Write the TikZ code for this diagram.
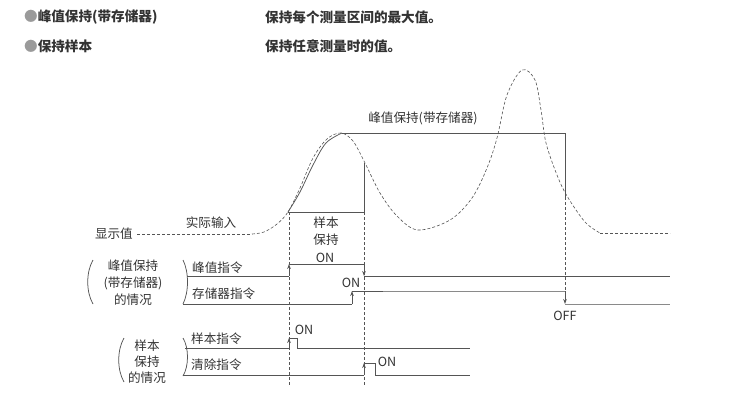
\documentclass[tikz,border=0pt]{standalone}
\usepackage{fontspec}
\setmainfont{Noto Sans CJK SC}
\usetikzlibrary{arrows.meta}
\definecolor{ln}{HTML}{555555}
\definecolor{lg}{HTML}{8A8A8A}
\definecolor{tx}{HTML}{333333}
\definecolor{bul}{HTML}{9A9A9A}
\tikzset{
  sig/.style={draw=ln, line width=0.75pt},
  sigl/.style={draw=lg, line width=0.85pt},
  dsh/.style={draw=ln, line width=0.6pt, dash pattern=on 3pt off 2pt},
  arr/.style={sig, -{Stealth[length=5pt,width=3.6pt]}},
  lbl/.style={text=tx, font=\fontsize{12.6}{14}\selectfont, inner sep=0pt},
  hdr/.style={text=tx, font=\fontsize{13.6}{15}\selectfont\bfseries, inner sep=0pt, anchor=west},
  onl/.style={text=tx, font=\fontsize{12.6}{14}\selectfont, inner sep=0pt}
}
\begin{document}
\begin{tikzpicture}[x=1pt,y=-1pt]
\useasboundingbox (0,0) rectangle (745,400);
% header
\node[hdr] (h1) at (24,17) {{\color{bul}●}峰值保持(带存储器)};
\node[hdr] (h2) at (24,46) {{\color{bul}●}保持样本};
\node[hdr] (h3) at (265,17) {保持每个测量区间的最大值。};
\node[hdr] (h4) at (265,46) {保持任意测量时的值。};
% labels
\node[lbl, anchor=east] (disp) at (133,234) {显示值};
\node[lbl] (act) at (211,223) {实际输入};
\node[lbl] (ph) at (423,118) {峰值保持(带存储器)};
\node[lbl] (sh1) at (326,223) {样本};
\node[lbl] (sh2) at (326,240) {保持};
\node[onl] (on1) at (325,258) {ON};
\node[onl] (on2) at (351,283) {ON};
\node[onl] (off) at (565,316) {OFF};
\node[onl] (on3) at (304,330) {ON};
\node[onl] (on4) at (387,362) {ON};
% left group labels
\node[lbl] (g1a) at (133,266) {峰值保持};
\node[lbl] (g1b) at (133,283) {(带存储器)};
\node[lbl] (g1c) at (133,300) {的情况};
\node[lbl, anchor=west] (c1) at (192,268) {峰值指令};
\node[lbl, anchor=west] (c2) at (192,294) {存储器指令};
\node[lbl] (g2a) at (147,346) {样本};
\node[lbl] (g2b) at (147,362) {保持};
\node[lbl] (g2c) at (147,378) {的情况};
\node[lbl, anchor=west] (c3) at (191,339) {样本指令};
\node[lbl, anchor=west] (c4) at (191,365) {清除指令};
% brackets
\draw[ln, line width=0.75pt] (93,260) .. controls (86,272) and (86,292) .. (93,304);
\draw[ln, line width=0.75pt] (183,260) .. controls (189,272) and (189,292) .. (183,304);
\draw[ln, line width=0.75pt] (124,338) .. controls (117,350) and (117,370) .. (124,382);
\draw[ln, line width=0.75pt] (183,338) .. controls (189,348) and (189,366) .. (183,376);
% actual input (dashed)
\draw[dsh] (137,234) -- (252,234);
\draw[dsh] plot[smooth, tension=0.55] coordinates {(252,234) (264,232) (277,224) (288,212) (300,188) (313,158) (327,139) (341,133) (353,141) (365,163) (380,193) (397,216) (418,230) (450,220) (472,198) (487,168) (497,138) (507,95) (522,70) (535,80) (541,110) (546,143) (557,175) (567,196) (585,222) (600,233)};
\draw[dsh] (600,233) -- (670,233);
% peak hold solid
\draw[sig] plot[smooth, tension=0.55] coordinates {(288,212) (300,192) (313,165) (326,143) (342,133)};
\draw[sig] (342,133) -- (565,133) -- (565,197);
\draw[dsh] (565,197) -- (565,291);
% sample hold box
\draw[sig] (288,212) -- (364,212) -- (364,163);
\draw[dsh] (289,212) -- (289,385);
\draw[dsh] (364,212) -- (364,385);
% peak command
\draw[sig] (187,276) -- (289,276);
\draw[arr] (289,276) -- (289,264);
\draw[sig] (289,264) -- (364,264);
\draw[arr] (364,264) -- (364,276);
\draw[sig] (364,276) -- (670,276);
% storage command
\draw[sig] (183,304) -- (352,304);
\draw[arr] (352,304) -- (352,291);
\draw[sig] (352,291) -- (383,291);
\draw[sigl] (383,291) -- (565,291);
\draw[arr] (565,291) -- (565,304);
\draw[sigl] (565,304) -- (670,304);
% sample command
\draw[sig] (185,348) -- (289,348);
\draw[arr] (289,348) -- (289,338);
\draw[sig] (289,338) -- (297,338) -- (297,348) -- (470,348);
% clear command
\draw[sig] (183,375) -- (364,375);
\draw[arr] (364,375) -- (364,363);
\draw[sig] (364,363) -- (375,363) -- (375,375) -- (470,375);
\end{tikzpicture}
\end{document}
